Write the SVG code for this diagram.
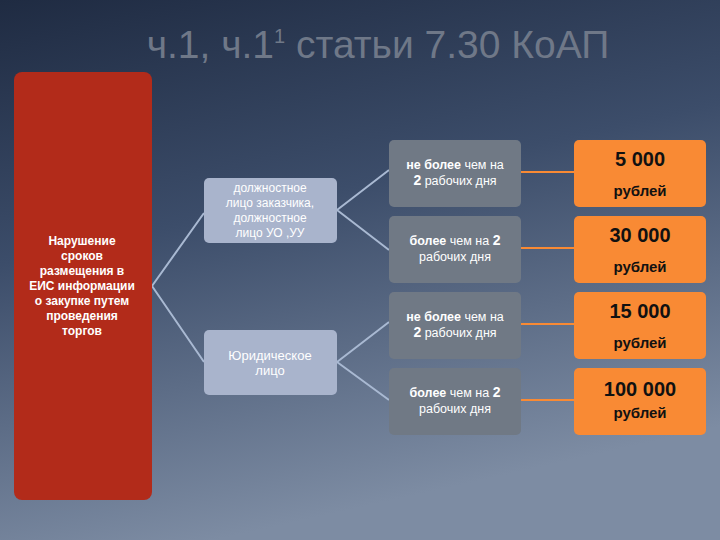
<svg xmlns="http://www.w3.org/2000/svg" width="720" height="540" viewBox="0 0 720 540">
<defs>
<linearGradient id="bg" x1="0" y1="0" x2="0.3" y2="1">
<stop offset="0" stop-color="#1f2b42"/><stop offset="0.45" stop-color="#3c4d6a"/><stop offset="1" stop-color="#7d8ca3"/>
</linearGradient>
<style>
.t{font-family:"Liberation Sans",Arial,sans-serif;text-anchor:middle}
.mid{fill:#a9b4cc}
.g{fill:#707985}
.o{fill:#f98a34}
.wl{fill:#fff;font-size:12.5px}
.ow{fill:#111;font-weight:bold}
.c{stroke:#a9b9d2;stroke-width:2;fill:none}
.oc{stroke:#f98a34;stroke-width:2}
</style>
</defs>
<rect width="720" height="540" fill="url(#bg)"/>
<text class="t" x="378" y="58" font-size="39" fill="#6f7888">ч.1, ч.1<tspan font-size="20" dy="-15">1</tspan><tspan dy="15"> статьи 7.30 КоАП</tspan></text>
<g id="connectors">
<path class="c" d="M152 286 L204 213 M152 286 L204 362 M337 210 L389 170 M337 210 L389 250 M337 362 L389 322 M337 362 L389 400"/>
<path class="oc" d="M521 172 H574 M521 248 H574 M521 324 H574 M521 400 H574"/>
</g>
<g id="n0"><rect x="14" y="72" width="138" height="428" rx="8" fill="#b22b1a"/>
<text class="t" font-size="12" font-weight="bold" fill="#fff"><tspan x="82" y="245">Нарушение</tspan><tspan x="82" y="260">сроков</tspan><tspan x="82" y="275">размещения в</tspan><tspan x="82" y="290">ЕИС информации</tspan><tspan x="82" y="305">о  закупке путем</tspan><tspan x="82" y="320">проведения</tspan><tspan x="82" y="335">торгов</tspan></text></g>
<g id="n1"><rect class="mid" x="204" y="178" width="133" height="65" rx="5"/>
<text class="t" font-size="12" fill="#fff"><tspan x="270" y="192">должностное</tspan><tspan x="270" y="207">лицо заказчика,</tspan><tspan x="270" y="222">должностное</tspan><tspan x="270" y="237">лицо УО ,УУ</tspan></text></g>
<g id="n2"><rect class="mid" x="204" y="330" width="133" height="65" rx="5"/>
<text class="t" font-size="13" fill="#fff"><tspan x="270" y="360">Юридическое</tspan><tspan x="270" y="375">лицо</tspan></text></g>
<g id="g1"><rect class="g" x="389" y="140" width="132" height="67" rx="5"/>
<text class="t wl"><tspan x="455" y="169"><tspan font-weight="bold">не более</tspan> чем на</tspan><tspan x="455" y="185"><tspan font-weight="bold" font-size="14">2</tspan> рабочих дня</tspan></text></g>
<g id="g2"><rect class="g" x="389" y="216" width="132" height="67" rx="5"/>
<text class="t wl"><tspan x="455" y="245"><tspan font-weight="bold">более</tspan> чем на <tspan font-weight="bold" font-size="14">2</tspan></tspan><tspan x="455" y="261">рабочих дня</tspan></text></g>
<g id="g3"><rect class="g" x="389" y="292" width="132" height="67" rx="5"/>
<text class="t wl"><tspan x="455" y="321"><tspan font-weight="bold">не более</tspan> чем на</tspan><tspan x="455" y="337"><tspan font-weight="bold" font-size="14">2</tspan> рабочих дня</tspan></text></g>
<g id="g4"><rect class="g" x="389" y="368" width="132" height="67" rx="5"/>
<text class="t wl"><tspan x="455" y="397"><tspan font-weight="bold">более</tspan> чем на <tspan font-weight="bold" font-size="14">2</tspan></tspan><tspan x="455" y="413">рабочих дня</tspan></text></g>
<g id="o1"><rect class="o" x="574" y="140" width="132" height="67" rx="5"/>
<text class="t ow"><tspan x="640" y="166" font-size="20">5 000</tspan><tspan x="640" y="196" font-size="15">рублей</tspan></text></g>
<g id="o2"><rect class="o" x="574" y="216" width="132" height="67" rx="5"/>
<text class="t ow"><tspan x="640" y="242" font-size="20">30 000</tspan><tspan x="640" y="272" font-size="15">рублей</tspan></text></g>
<g id="o3"><rect class="o" x="574" y="292" width="132" height="67" rx="5"/>
<text class="t ow"><tspan x="640" y="318" font-size="20">15 000</tspan><tspan x="640" y="348" font-size="15">рублей</tspan></text></g>
<g id="o4"><rect class="o" x="574" y="368" width="132" height="67" rx="5"/>
<text class="t ow"><tspan x="640" y="396" font-size="20">100 000</tspan><tspan x="640" y="418" font-size="15">рублей</tspan></text></g>
</svg>
